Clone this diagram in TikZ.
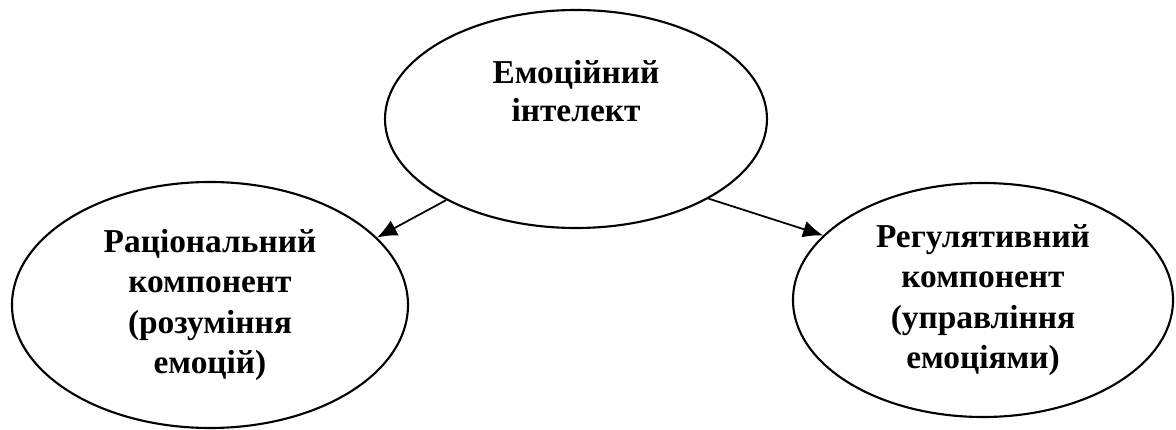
\documentclass[tikz,border=0pt]{standalone}
\usepackage{fontspec}
\setmainfont{Liberation Serif}
\usepackage{tikz}
\usetikzlibrary{shapes.geometric, arrows, arrows.meta, positioning, calc}

\begin{document}
\begin{tikzpicture}[
    comp/.style={ellipse, draw=black, line width=1.2pt, text centered, align=center,
                 font=\fontsize{19}{23}\selectfont\bfseries},
    arrow/.style={line width=1pt, -{Latex[length=4mm,width=3.4mm]}}
]
    \useasboundingbox (0,0) rectangle (23.52,-8.6);

    \node[comp, minimum width=7.64cm, minimum height=4.36cm] (emo) at (11.52,-2.38) {};
    \node[font=\fontsize{19}{22}\selectfont\bfseries, align=center] (emotext) at ($(emo.center)+(0,0.56)$) {Емоційний\\інтелект};
    \node[comp, minimum width=7.92cm, minimum height=4.92cm] (rat) at (4.2,-6.1) {Раціональний\\компонент\\(розуміння\\емоцій)};
    \node[comp, minimum width=7.6cm, minimum height=4.68cm] (reg) at (19.66,-6.0) {Регулятивний\\компонент\\(управління\\емоціями)};

    \draw[arrow] (emo.212) -- (rat.22);
    \draw[arrow] (emo.329) -- (reg.158);

\end{tikzpicture}
\end{document}
